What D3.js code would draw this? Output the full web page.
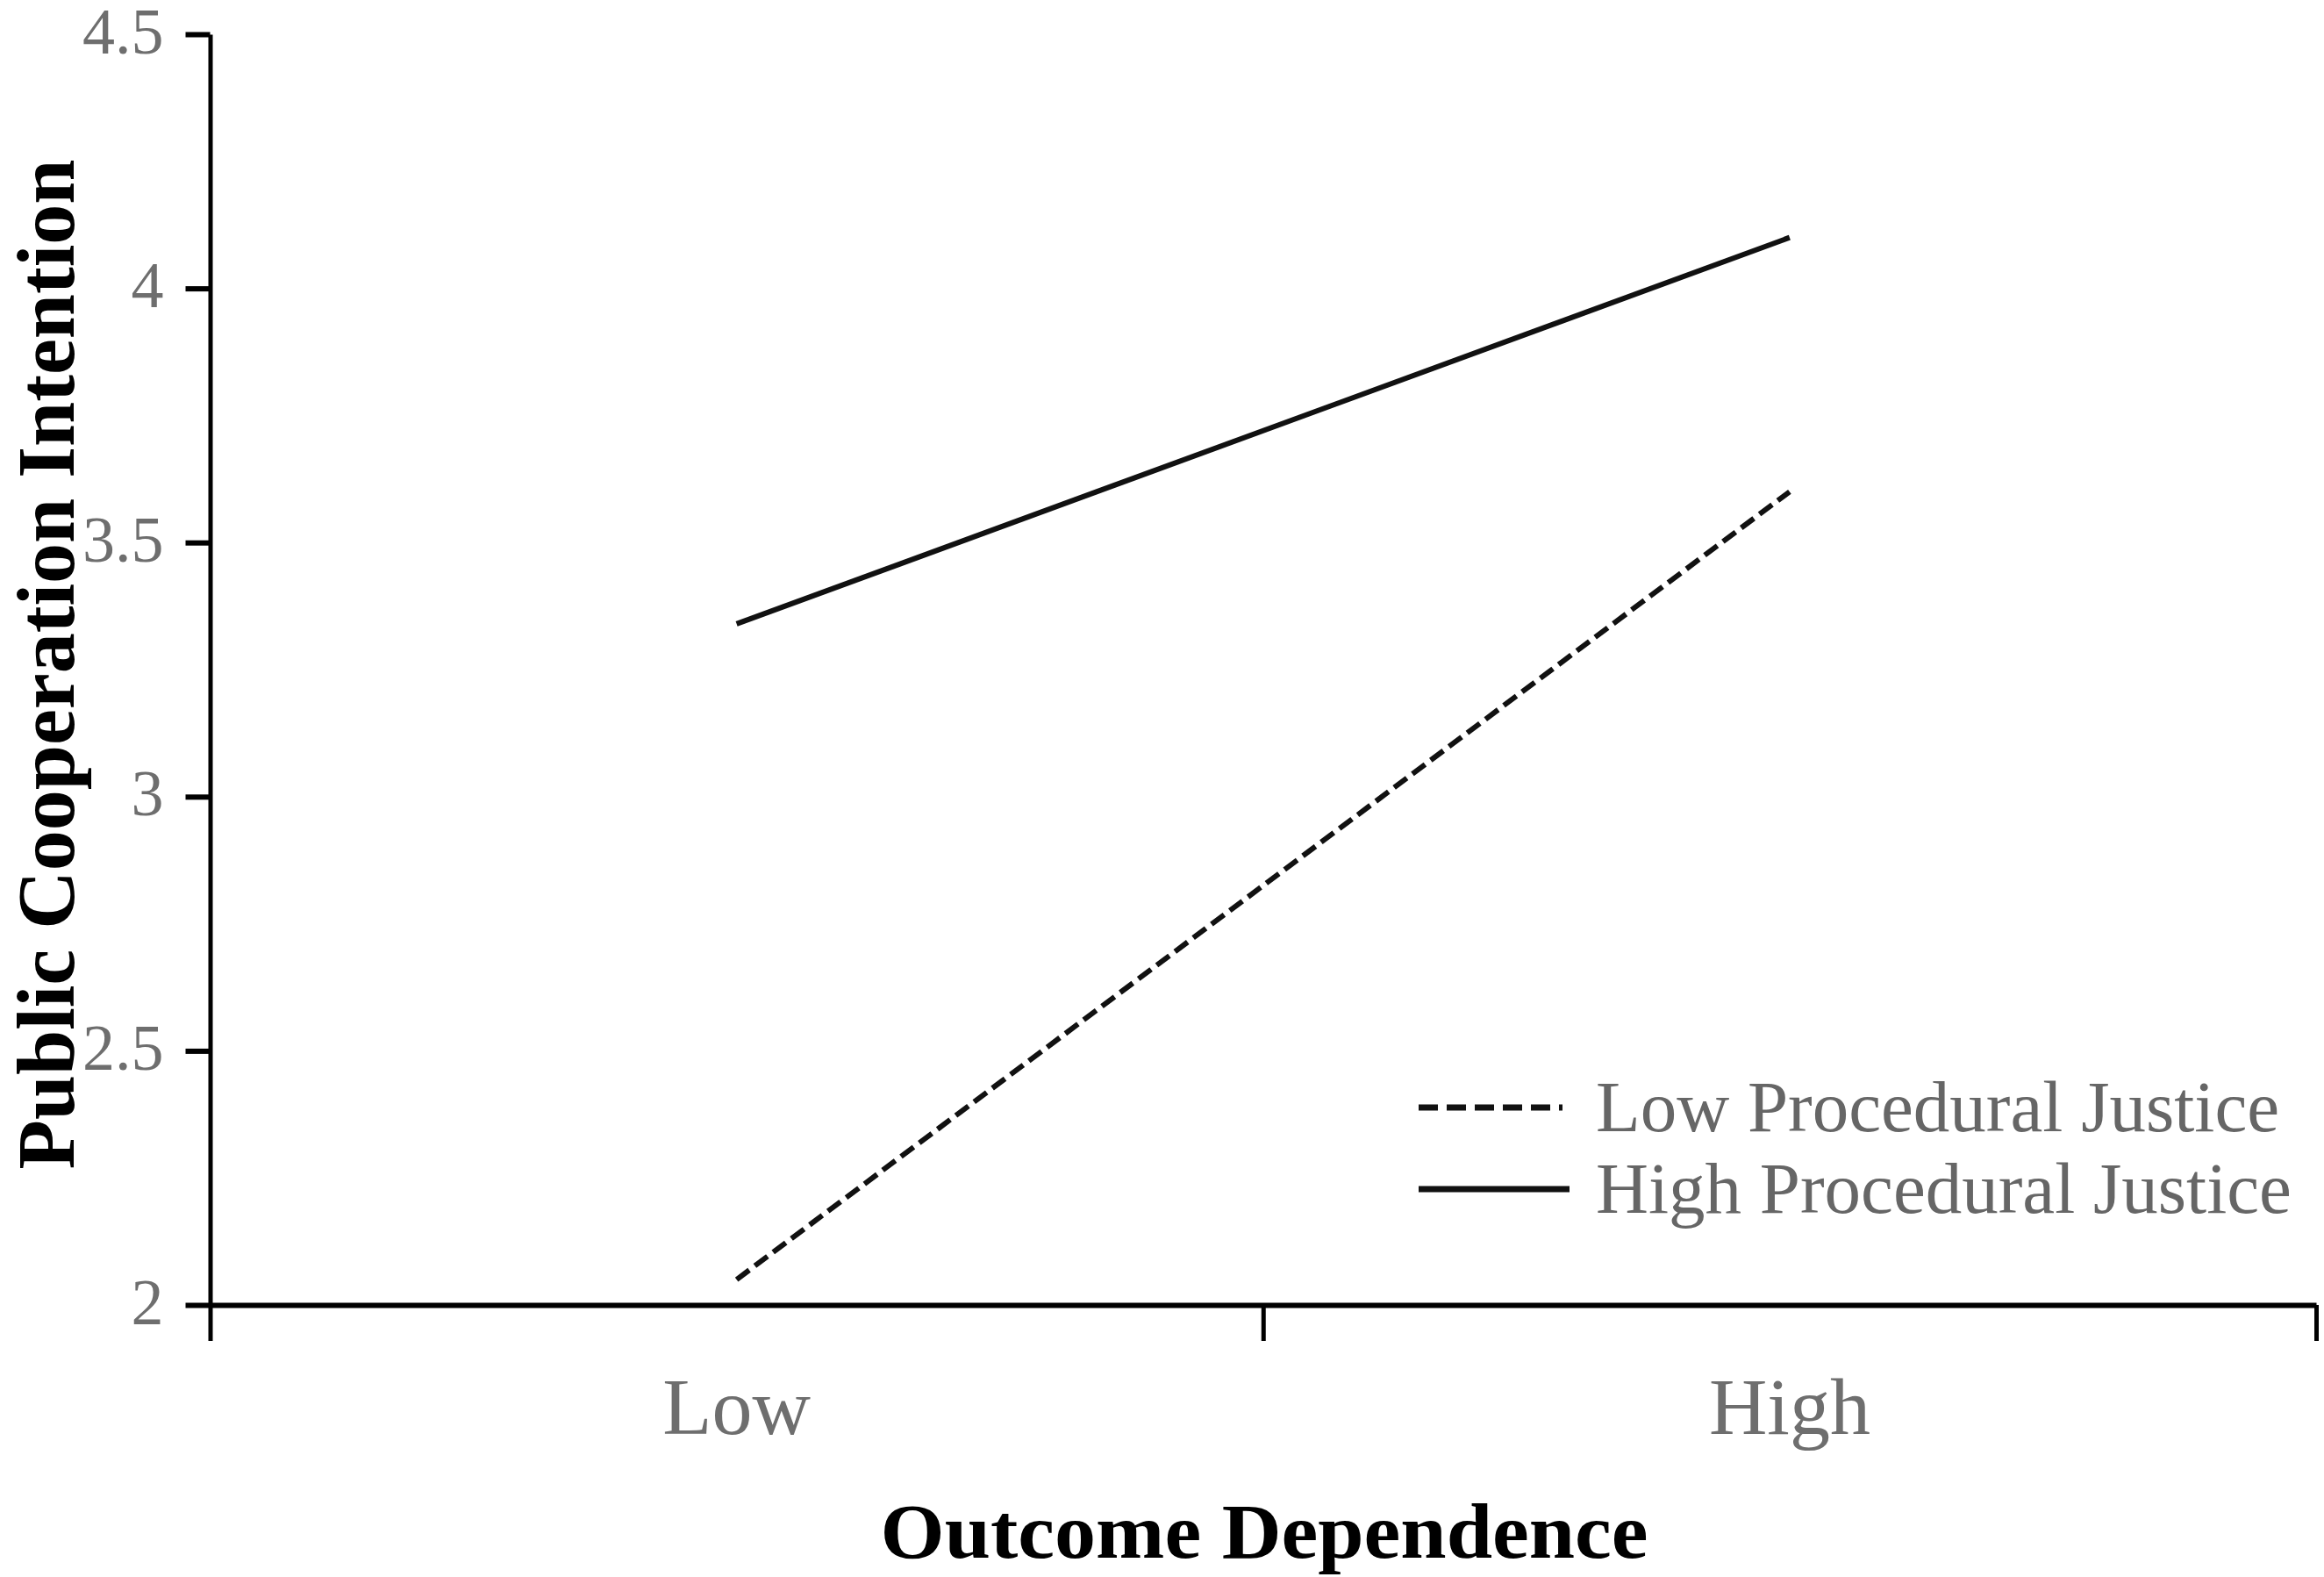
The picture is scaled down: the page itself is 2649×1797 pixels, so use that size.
<!DOCTYPE html>
<html>
<head>
<meta charset="utf-8">
<script src="https://cdn.jsdelivr.net/npm/d3@7"></script>
<style>
  body { margin: 0; background: #fff; }
  svg { display: block; }
  .serif { font-family: "Liberation Serif", "Times New Roman", serif; }
</style>
</head>
<body>
<div id="chart"></div>
<script>
// categories on the x axis
var categories = ["Low", "High"];
// series (values per category)
var seriesNames = ["Low Procedural Justice", "High Procedural Justice"];
var lowPJ = [2.05, 3.60];
var highPJ = [3.34, 4.10];
// y axis ticks
var yTicks = [2, 2.5, 3, 3.5, 4, 4.5];

var width = 2649,
  height = 1797,
  plotLeft = 239.5,
  plotRight = 2640,
  plotTop = 39,
  plotBottom = 1487;

var svg = d3
  .select("#chart")
  .append("svg")
  .attr("width", width)
  .attr("height", height);

var x = d3.scaleBand().domain(categories).range([plotLeft, plotRight]).padding(0);
// boundary scale, ticks sit between the categories (Excel style)
var xEdge = d3.scaleLinear().domain([0, categories.length]).range([plotLeft, plotRight]);
var y = d3.scaleLinear().domain([2, 4.5]).range([plotBottom, plotTop]);

//y axis
var yAxis = svg
  .append("g")
  .attr("transform", "translate(" + plotLeft + ",0)")
  .call(
    d3.axisLeft(y)
      .tickValues(yTicks)
      .tickSize(28)
      .tickSizeOuter(0)
      .tickFormat(function(d) { return d; })
  );
yAxis.select(".domain").attr("stroke", "#000").attr("stroke-width", 5);
yAxis.selectAll(".tick line").attr("stroke", "#000").attr("stroke-width", 6);
yAxis
  .selectAll(".tick text")
  .attr("class", "serif")
  .attr("x", -53)
  .attr("dy", null)
  .attr("y", 21)
  .attr("fill", "#6e6e6e")
  .style("font-size", "74px");

//x axis line + boundary ticks
var xAxis = svg
  .append("g")
  .attr("transform", "translate(0," + plotBottom + ")")
  .call(
    d3.axisBottom(xEdge)
      .tickValues(d3.range(categories.length + 1))
      .tickSize(41)
      .tickSizeOuter(0)
      .tickFormat("")
  );
xAxis.select(".domain").attr("stroke", "#000").attr("stroke-width", 6);
xAxis.selectAll(".tick line").attr("stroke", "#000").attr("stroke-width", 5);

//category labels
var xLabels = svg
  .append("g")
  .attr("transform", "translate(0," + plotBottom + ")")
  .call(d3.axisBottom(x).tickSize(0));
xLabels.select(".domain").remove();
xLabels
  .selectAll(".tick text")
  .attr("class", "serif")
  .attr("dy", null)
  .attr("y", 147)
  .attr("fill", "#6e6e6e")
  .style("font-size", "92px");

//lines
var line = d3
  .line()
  .x(function(d, i) { return x(categories[i]) + x.bandwidth() / 2; })
  .y(function(d) { return y(d); });

svg
  .append("path")
  .datum(lowPJ)
  .attr("d", line)
  .attr("fill", "none")
  .attr("stroke", "#111")
  .attr("stroke-width", 6)
  .attr("stroke-dasharray", "18,8");

svg
  .append("path")
  .datum(highPJ)
  .attr("d", line)
  .attr("fill", "none")
  .attr("stroke", "#111")
  .attr("stroke-width", 6);

//legend
var legend = svg
  .append("g")
  .selectAll("g")
  .data(seriesNames)
  .enter()
  .append("g")
  .attr("transform", function(d, i) {
    return "translate(1617," + (1262 + i * 93) + ")";
  });
legend
  .append("line")
  .attr("x1", 0)
  .attr("x2", function(d, i) { return i == 0 ? 164 : 172; })
  .attr("stroke", "#111")
  .attr("stroke-width", 7)
  .attr("stroke-dasharray", function(d, i) { return i == 0 ? "22,10" : null; });
legend
  .append("text")
  .attr("class", "serif")
  .attr("x", 202)
  .attr("y", 27)
  .attr("fill", "#666")
  .style("font-size", "83px")
  .text(function(d) { return d; });

//axis titles
svg
  .append("text")
  .attr("class", "serif")
  .attr("transform", "translate(84,757) rotate(-90)")
  .attr("text-anchor", "middle")
  .attr("font-weight", "bold")
  .attr("textLength", 1151)
  .attr("lengthAdjust", "spacingAndGlyphs")
  .style("font-size", "93px")
  .text("Public Cooperation Intention");

svg
  .append("text")
  .attr("class", "serif")
  .attr("x", 1441)
  .attr("y", 1775)
  .attr("text-anchor", "middle")
  .attr("font-weight", "bold")
  .attr("textLength", 875)
  .attr("lengthAdjust", "spacingAndGlyphs")
  .style("font-size", "88px")
  .text("Outcome Dependence");
</script>
</body>
</html>
